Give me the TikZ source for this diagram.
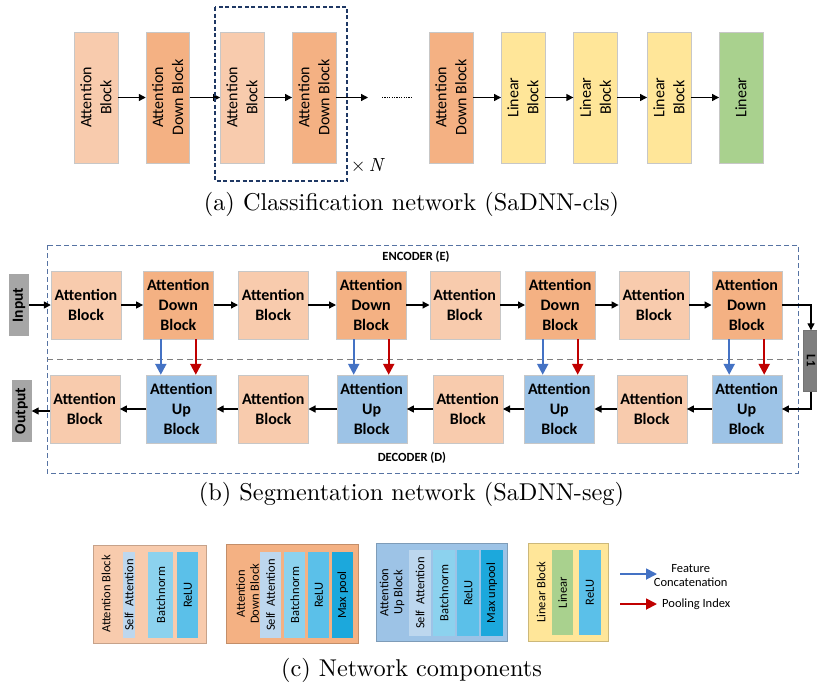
\documentclass[tikz,border=0pt]{standalone}
\usepackage{fontspec}
\usepackage{graphicx}
\setmainfont{Carlito}
\newfontfamily\capfont{lmroman10-regular.otf}[ItalicFont=lmroman10-italic.otf]
\usetikzlibrary{arrows.meta}
\definecolor{peach}{HTML}{F8CBAD}
\definecolor{downc}{HTML}{F4B183}
\definecolor{upc}{HTML}{9DC3E6}
\definecolor{linb}{HTML}{FFE699}
\definecolor{lgreen}{HTML}{A9D18E}
\definecolor{iogray}{HTML}{A6A6A6}
\definecolor{lossgray}{HTML}{7F7F7F}
\definecolor{sa}{HTML}{BDD7EE}
\definecolor{bn}{HTML}{8CD2EE}
\definecolor{relu}{HTML}{5BC0E9}
\definecolor{mpool}{HTML}{1CA8DC}
\definecolor{catblue}{HTML}{4472C4}
\definecolor{poolred}{HTML}{C00000}
\definecolor{navy}{HTML}{1F3864}
\definecolor{slate}{HTML}{5673A3}
\tikzset{
  >={Triangle[length=7pt,width=7pt]},
  cblk/.style={draw=black!22,fill=#1,rotate=90,minimum width=131pt,minimum height=43.5pt,
    inner sep=0pt,align=center,font=\fontsize{16}{20}\selectfont},
  sblk/.style={draw=black!22,fill=#1,minimum width=70pt,minimum height=68pt,
    inner sep=0pt,align=center,font=\fontsize{16}{20}\selectfont\bfseries},
  io/.style={fill=#1,rotate=90,minimum width=62pt,minimum height=20pt,inner sep=0pt,
    font=\fontsize{15.5}{18}\selectfont\bfseries},
  link/.style={->,line width=1.3pt},
  cat/.style={-{Triangle[length=11pt,width=11pt]},line width=2.2pt,draw=catblue},
  pool/.style={-{Triangle[length=11pt,width=11pt]},line width=2.2pt,draw=poolred},
  part/.style={draw=#1!80!black,line width=0.6pt,fill=#1,inner sep=0pt},
  layer/.style={fill=#1,rotate=90,minimum width=86pt,inner sep=0pt,align=center,
    font=\fontsize{12.5}{14}\selectfont},
  note/.style={align=center,inner sep=0pt,font=\fontsize{12.5}{14}\selectfont},
  tagb/.style={inner sep=0pt,font=\fontsize{12.5}{14}\selectfont\bfseries},
  captext/.style={anchor=base,inner sep=0pt,font=\fontsize{24.3}{29}\capfont},
}
\begin{document}
\begin{tikzpicture}[x=1pt,y=1pt]
\useasboundingbox (0,0) rectangle (817,-689);

% classification network
\node[cblk=peach] (a1) at (96,-97.5) {Attention\\Block};
\node[cblk=downc] (a2) at (167.7,-97.5) {Attention\\Down Block};
\node[cblk=peach] (a3) at (242,-97.5) {Attention\\Block};
\node[cblk=downc] (a4) at (314,-97.5) {Attention\\Down Block};
\node[cblk=downc] (a5) at (451,-97.5) {Attention\\Down Block};
\foreach \x/\n in {523/6,595.3/7,669/8}
  \node[cblk=linb] (a\n) at (\x,-97.5) {Linear\\Block};
\node[cblk=lgreen] (a9) at (741,-97.5) {Linear};
\foreach \i/\j in {1/2,2/3,3/4,5/6,6/7,7/8,8/9} \draw[link] (a\i) -- (a\j);
\coordinate (a4out) at (368,-97.5);
\draw[link] (a4) -- (a4out);
\draw[line width=1.2pt,dash pattern=on 1.2pt off 1.2pt] (382,-97.5) -- (413,-97.5);
\draw[navy,line width=1.3pt,dash pattern=on 4pt off 2.5pt] (215,-7) rectangle (347,-181);
\node[inner sep=0pt,font=\fontsize{19}{22}\capfont] (rep) at (368,-165) {×\,\textit{N}};
\node[captext] (capa) at (411.5,-210) {(a) Classification network (SaDNN-cls)};

% segmentation network
\draw[slate,line width=0.8pt,dash pattern=on 5pt off 3pt] (47,-245) rectangle (798,-473);
\draw[lossgray,line width=1pt,dash pattern=on 6pt off 4pt] (47,-359) -- (798,-359);
\node[tagb] (enc) at (416,-257) {ENCODER (E)};
\node[tagb] (dec) at (412,-458) {DECODER (D)};
\foreach \x/\k in {86/1,273.2/3,464.7/5,653.8/7}
  \node[sblk=peach] (e\k) at (\x,-305) {Attention\\Block};
\foreach \x/\k in {178.3/2,371.2/4,560.2/6,746.7/8}
  \node[sblk=downc] (e\k) at (\x,-305) {Attention\\Down\\Block};
\foreach \x/\k in {84.7/1,273.3/3,467.8/5,651.7/7}
  \node[sblk=peach] (d\k) at (\x,-409) {Attention\\Block};
\foreach \x/\k in {181.5/2,371.7/4,559.3/6,746.7/8}
  \node[sblk=upc] (d\k) at (\x,-409) {Attention\\Up\\Block};
\node[io=iogray] (inp) at (19,-305) {Input};
\node[io=iogray] (out) at (21.5,-411) {Output};
\node[fill=lossgray,draw=black!55,minimum width=16pt,minimum height=61pt,inner sep=0pt,
  font=\fontsize{13}{15}\selectfont\bfseries] (l1) at (811,-361) {\rotatebox{-90}{L1}};
\foreach \i [remember=\i as \j (initially 1)] in {2,...,8} \draw[link] (e\j) -- (e\i);
\foreach \i [remember=\i as \j (initially 8)] in {7,...,1} \draw[link] (d\j) -- (d\i);
\draw[link] (inp) -- (e1);
\draw[link] (d1.west |- out) -- (out);
\draw[link] (e8) -| (l1);
\draw[link] (l1) |- (d8);
\foreach \k in {2,4,6,8}{
  \draw[cat] ([xshift=-17.5pt]e\k.south) -- ([xshift=-17.5pt]e\k.south |- d\k.north);
  \draw[pool] ([xshift=17.5pt]e\k.south) -- ([xshift=17.5pt]e\k.south |- d\k.north);
}
\node[captext] (capb) at (411.5,-500) {(b) Segmentation network (SaDNN-seg)};

% network components
\node[part=peach,minimum width=113.4pt,minimum height=98.3pt] (c1) at (150,-594) {};
\node[note,rotate=90] (c1t) at (106,-594) {Attention Block};
\foreach \x/\w/\c/\t [count=\i] in {129.2/11.7/sa/{Self~ Attention},160.8/25/bn/Batchnorm,187.8/21/relu/ReLU}
  \node[layer=\c,minimum height=\w pt] (c1\i) at (\x,-595) {\t};

\node[part=downc,minimum width=131.6pt,minimum height=99pt] (c2) at (292.5,-593.8) {};
\node[note,rotate=90] (c2t) at (247.5,-593.8) {Attention\\Down Block};
\foreach \x/\c/\t [count=\i] in {270.5/sa/{Self~ Attention},294.8/bn/Batchnorm,318.8/relu/ReLU,342.8/mpool/Max pool}
  \node[layer=\c,minimum height=21pt] (c2\i) at (\x,-595) {\t};

\node[part=upc,minimum width=131.3pt,minimum height=98.4pt] (c3) at (441.7,-592.5) {};
\node[note,rotate=90] (c3t) at (392,-592.5) {Attention\\Up Block};
\foreach \x/\c/\t [count=\i] in {420.2/sa/{Self~ Attention},444.2/bn/Batchnorm,468.3/relu/ReLU,491.8/mpool/Max unpool}
  \node[layer=\c,minimum height=21.7pt] (c3\i) at (\x,-593) {\t};

\node[part=linb,minimum width=80pt,minimum height=97.7pt] (c4) at (568.3,-592.2) {};
\node[note,rotate=90] (c4t) at (541,-592.2) {Linear Block};
\foreach \x/\c/\t [count=\i] in {562.7/lgreen/Linear,589.8/relu/ReLU}
  \node[layer=\c,minimum height=21.5pt,minimum width=85pt] (c4\i) at (\x,-592.5) {\t};

\coordinate (lgb) at (620,-574);
\coordinate (lgr) at (620,-604);
\draw[cat,line width=1.8pt] (lgb) -- ++(37,0);
\draw[pool,line width=1.8pt] (lgr) -- ++(37,0);
\node[note] (lgbt) at (690.7,-576) {Feature\\Concatenation};
\node[note,anchor=west] (lgrt) at (662,-604) {Pooling Index};
\node[captext] (capc) at (411.5,-676) {(c) Network components};
\end{tikzpicture}
\end{document}
